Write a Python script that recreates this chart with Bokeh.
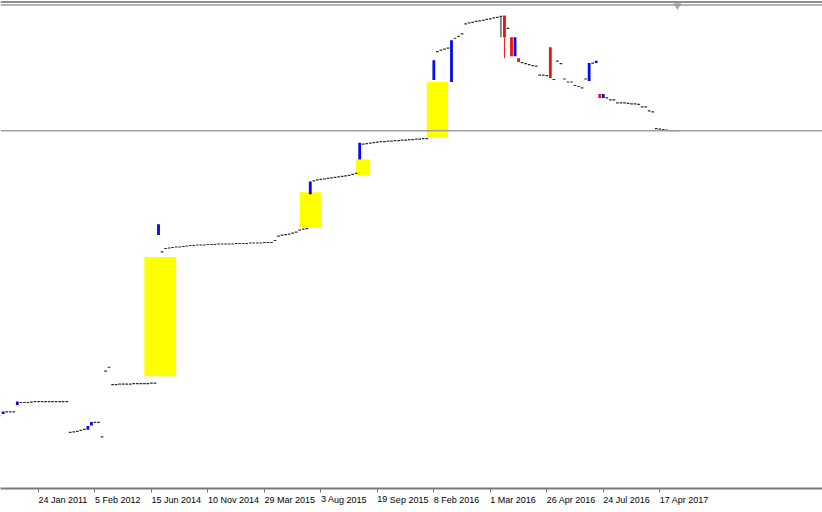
from bokeh.plotting import figure
from bokeh.models import Range1d, FixedTicker, Span
from bokeh.embed import file_html
from bokeh.resources import INLINE

# ---- data (bar index, open, close) ----
bar_idx = [5, 6, 7, 8, 9, 10, 11, 12, 13, 14, 15, 16, 17, 18, 19, 20, 21, 22, 23, 24,
           25, 26, 27, 28, 29, 30, 31, 32, 33, 34, 35, 36, 37, 38, 39, 40, 41, 42, 43, 44,
           45, 46, 47, 48, 49, 50, 51, 52, 53, 54, 55, 56, 57, 58, 59, 60, 61, 62, 63, 64,
           65, 66, 67, 68, 69, 70, 71, 72, 73, 74, 75, 76, 77, 78, 79, 80, 81, 82, 83, 84,
           85, 86, 87, 88, 89, 90, 91, 92, 93, 94, 95, 96, 97, 98, 99, 100, 101, 102, 103, 104,
           105, 106, 107, 108, 109, 110, 111, 112, 113, 114, 115, 116, 117, 118, 119, 120, 121, 122, 123, 124,
           125, 126, 128, 129, 130, 131, 132, 133, 134, 135, 136, 137, 138, 139, 140, 141, 142, 143, 144, 145,
           146, 147, 148, 149, 150, 151, 152, 153, 154, 155, 156, 157, 158, 159, 160, 161, 162, 163, 164, 165,
           166, 167, 168, 169, 170, 171, 172, 173, 174, 175, 176, 177, 178, 179, 180, 181, 182, 183, 184, 185,
           186, 187, 188, 189, 190, 191, 192, 193, 194, 195, 196, 197]
bar_open = [73, 75, 77, 77, 77, 84, 86.5, 86.5, 86.5, 87, 87.5, 87.5, 87.5, 87.5, 87.5, 87.5, 87.5, 87.5, 87.5, 87.5,
            56.5, 57, 57.5, 58.5, 59.5, 59, 63.5, 66.5, 66.5, 52, 118, 122, 104.5, 104.5, 105, 105, 105, 105, 105.5, 105.5,
            105.5, 105.5, 105.5, 106, 106, 255, 238, 241.5, 242, 242.5, 243, 243, 243.5, 244, 244.5, 244.5, 245, 245, 245, 245.5,
            245.5, 245.5, 246, 246, 246, 246, 246, 246.5, 246.5, 246.5, 246.5, 247, 247, 247, 247, 247.5, 247.5, 247.5, 249.5, 254,
            255, 255.5, 256, 257, 258, 260, 261, 261.5, 296, 309.5, 310.5, 311, 311.5, 312, 312.5, 313, 313.5, 314, 314.5, 315,
            316, 317, 331, 346.5, 347, 347.5, 348, 348.5, 349, 349, 349.5, 349.5, 350, 350, 350.5, 350.5, 351, 351, 351.5, 351.5,
            352, 352, 411, 439.5, 441, 442, 443, 409, 453, 455, 457.5, 467.5, 468.5, 469, 470, 470.5, 471, 472, 472.5, 473.5,
            474, 475, 476, 463, 454, 435, 433, 428.5, 427.5, 426.5, 425.5, 425, 416, 416, 415.5, 444, 411.5, 430, 427.5, 412,
            409, 409, 405.5, 404.5, 403, 412, 410, 428, 428, 397, 393, 393, 391, 391, 388, 388, 388, 387.5, 387, 387,
            386.5, 384, 384, 380, 379, 362, 361.5, 361, 360.5, 360, 360, 360]
bar_close = [73, 77.5, 77, 77, 77, 87.5, 86.5, 86.5, 86.5, 87, 87.5, 87.5, 87.5, 87.5, 87.5, 87.5, 87.5, 87.5, 87.5, 87.5,
             56.5, 57, 57.5, 58.5, 59.5, 63, 67, 66.5, 66.5, 52, 118, 122, 104.5, 104.5, 105, 105, 105, 105, 105.5, 105.5,
             105.5, 105.5, 105.5, 106, 106, 266, 238, 241.5, 242, 242.5, 243, 243, 243.5, 244, 244.5, 244.5, 245, 245, 245, 245.5,
             245.5, 245.5, 246, 246, 246, 246, 246, 246.5, 246.5, 246.5, 246.5, 247, 247, 247, 247, 247.5, 247.5, 247.5, 249.5, 254,
             255, 255.5, 256, 257, 258, 260, 261, 261.5, 309, 309.5, 310.5, 311, 311.5, 312, 312.5, 313, 313.5, 314, 314.5, 315,
             316, 317, 348, 346.5, 347, 347.5, 348, 348.5, 349, 349, 349.5, 349.5, 350, 350, 350.5, 350.5, 351, 351, 351.5, 351.5,
             352, 352, 431, 439.5, 441, 442, 443, 451, 453, 455, 457.5, 467.5, 468.5, 469, 470, 470.5, 471, 472, 472.5, 473.5,
             474, 475, 454, 463, 435, 454, 429, 428.5, 427.5, 426.5, 425.5, 425, 416, 416, 415.5, 413, 411.5, 430, 427.5, 412,
             409, 409, 405.5, 404.5, 403, 412, 428, 428, 430.5, 393, 397, 393, 391, 391, 388, 388, 388, 387.5, 387, 387,
             386.5, 384, 384, 380, 379, 362, 361.5, 361, 360.5, 360, 360, 360]

# wicks (shadows) visible on a few bars
wick_bar = [147, 148]
wick_top = [475, 454]
wick_bottom = [454, 433]

# yellow gap zones (start bar, end bar, low, high)
zone_start = [46, 90, 106, 126]
zone_end = [55, 96, 110, 132]
zone_low = [113, 263, 315, 353]
zone_high = [233, 298, 331, 409]

# horizontal level line
level_price = 360

# time axis
tick_bars = [0, 16, 32, 48, 64, 80, 96, 112, 128, 144, 160, 176, 192]
tick_labels = ["18 May 2010", "24 Jan 2011", "5 Feb 2012", "15 Jun 2014", "10 Nov 2014",
               "29 Mar 2015", "3 Aug 2015", "19 Sep 2015", "8 Feb 2016", "1 Mar 2016",
               "26 Apr 2016", "24 Jul 2016", "17 Apr 2017"]

# ---- figure ----
BAR_PX = 3.53          # pixels per bar
W, H = 822, 512
FRAME_H = 491
x_left = 18.5 / BAR_PX
p = figure(width=W, height=H, output_backend="svg", toolbar_location=None,
           x_range=Range1d(x_left, x_left + W / BAR_PX),
           y_range=Range1d(0, FRAME_H),
           y_axis_location=None,
           min_border_left=0, min_border_right=0, min_border_top=0,
           min_border_bottom=H - FRAME_H)
p.grid.visible = False
p.outline_line_color = None
p.background_fill_color = "white"
p.border_fill_color = "white"

# zones
p.quad(left=zone_start, right=zone_end, bottom=zone_low, top=zone_high,
       fill_color="#ffff00", line_color=None)

# candles
up_x, up_b, up_t = [], [], []
dn_x, dn_b, dn_t = [], [], []
fl_x, fl_b, fl_t = [], [], []
for b, o, c in zip(bar_idx, bar_open, bar_close):
    if c - o > 1:
        up_x.append(b); up_b.append(o); up_t.append(c)
    elif o - c > 1:
        dn_x.append(b); dn_b.append(c); dn_t.append(o)
    else:
        fl_x.append(b); fl_b.append(o - 0.6); fl_t.append(o + 0.6)

p.segment(x0=wick_bar, y0=wick_top, x1=wick_bar, y1=wick_bottom,
          line_color=["#8a8a8a", "#f01010"], line_width=[2, 1])
p.vbar(x=fl_x, bottom=fl_b, top=fl_t, width=0.75, fill_color="#2b2b2b", line_color=None)
p.vbar(x=up_x, bottom=up_b, top=up_t, width=0.8, fill_color="#0a0ae8", line_color=None)
p.vbar(x=dn_x, bottom=dn_b, top=dn_t, width=0.8, fill_color="#f01010", line_color=None)

# level line and top border
p.add_layout(Span(location=level_price, dimension="width", line_color="#a0a0a0", line_width=1.5))
p.add_layout(Span(location=FRAME_H - 1.5, dimension="width", line_color="#8f8f8f", line_width=2))
p.add_layout(Span(location=FRAME_H - 4.5, dimension="width", line_color="#9a9a9a", line_width=1.5))
p.scatter(x=[bar_idx[-1]], y=[FRAME_H - 5], marker="inverted_triangle", size=8,
          fill_color="#a8a8a8", line_color=None)

# x axis: labels start at their tick (tiny negative angle -> left-anchored labels)
ax = p.xaxis[0]
ax.ticker = FixedTicker(ticks=tick_bars)
ax.major_label_overrides = {t: s for t, s in zip(tick_bars, tick_labels)}
ax.major_label_orientation = -1e-6
ax.major_label_standoff = 7
ax.major_label_text_font = "Liberation Sans"
ax.major_label_text_font_size = "9px"
ax.major_label_text_color = "#000000"
ax.major_tick_out = 4
ax.major_tick_in = 0
ax.minor_tick_line_color = None
ax.axis_line_color = "#7a7a7a"
ax.axis_line_width = 2
ax.major_tick_line_color = "#7a7a7a"

open("out.html", "w").write(file_html(p, INLINE))
